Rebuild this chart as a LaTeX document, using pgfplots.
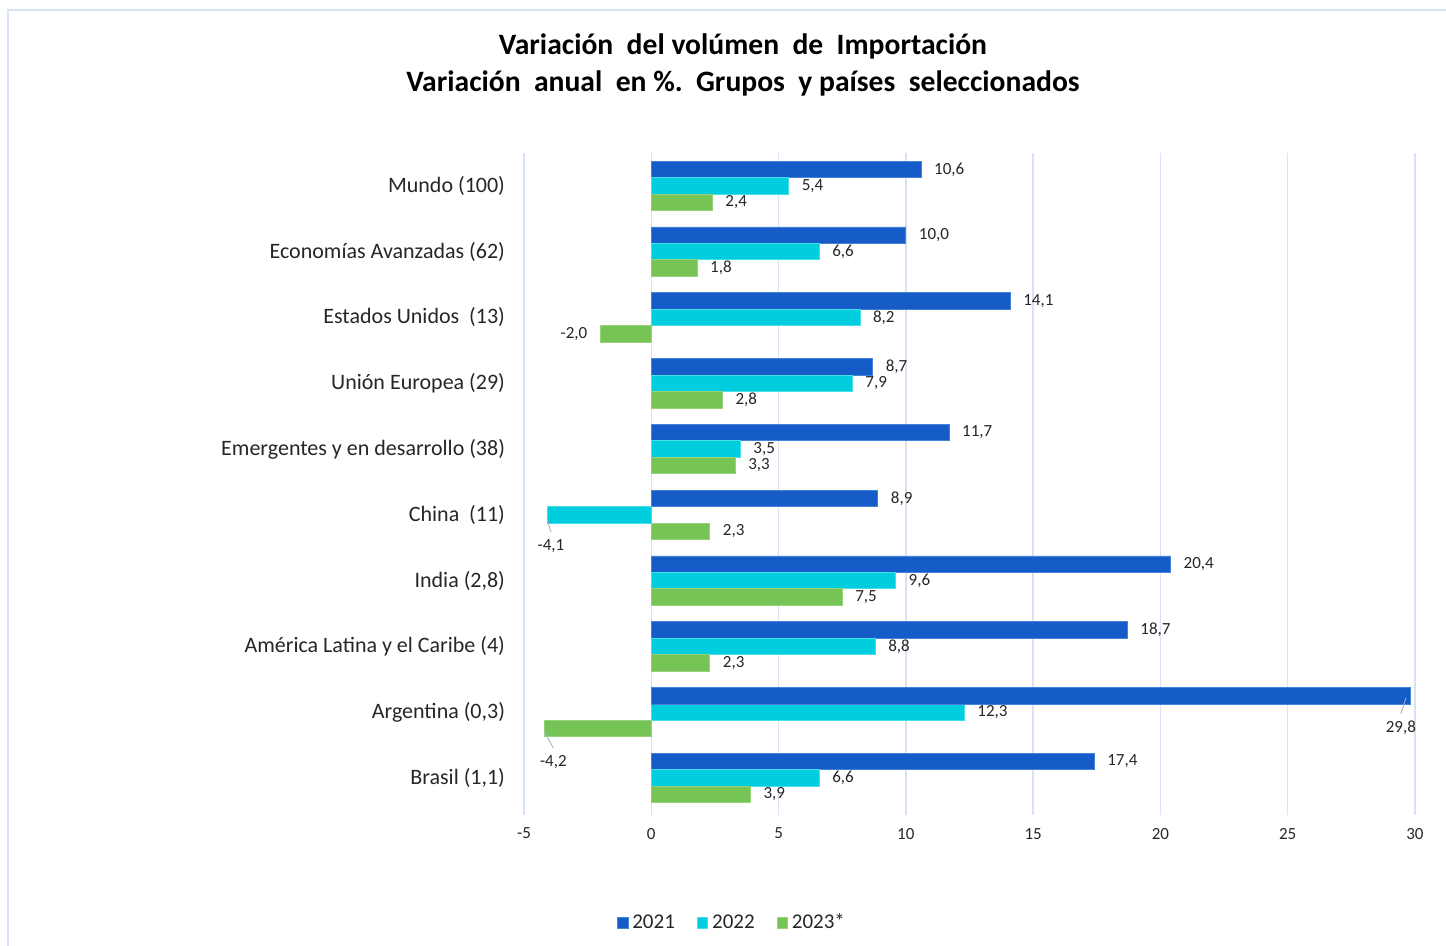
\documentclass[border=0pt]{standalone}
\usepackage{pgfplots}
\pgfplotsset{compat=1.18}
\usepackage{fontspec}
\setmainfont{Carlito}

\definecolor{c21}{RGB}{22,92,200}
\definecolor{c21e}{RGB}{70,130,215}
\definecolor{c22}{RGB}{0,206,222}
\definecolor{c22e}{RGB}{70,222,232}
\definecolor{c23}{RGB}{118,196,86}
\definecolor{c23e}{RGB}{150,210,120}
\definecolor{gridc}{RGB}{214,227,244}
\definecolor{leader}{RGB}{160,180,205}
\definecolor{txt}{RGB}{38,38,38}

\begin{document}
\begin{tikzpicture}
\begin{axis}[
  name=ax,
  scale only axis,
  width=445.5pt, height=331pt,
  xbar, bar width=0.25,
  xmin=-5, xmax=30, ymin=-0.5, ymax=9.5625,
  y dir=reverse,
  xtick={-5,0,...,30},
  ytick={0,...,9},
  yticklabels={{Mundo (100)}, {Economías Avanzadas (62)}, {Estados Unidos\ \ (13)},
    {Unión Europea (29)}, {Emergentes y en desarrollo (38)}, {China\ \ (11)},
    {India (2,8)}, {América Latina y el Caribe (4)}, {Argentina (0,3)}, {Brasil (1,1)}},
  yticklabel style={font=\fontsize{11}{13}\selectfont, text=txt, xshift=-6pt},
  xticklabel style={font=\fontsize{8.5}{10}\selectfont, text=txt, yshift=-3pt},
  /pgf/number format/assume math mode=true,
  xmajorgrids, major grid style={draw=gridc, line width=0.7pt},
  axis line style={draw=none},
  major tick length=0pt,
  point meta=x,
  nodes near coords,
  nodes near coords style={font=\fontsize{8.5}{10}\selectfont, text=txt,
    /pgf/number format/fixed, /pgf/number format/fixed zerofill,
    /pgf/number format/precision=1, /pgf/number format/use comma,
    /pgf/number format/assume math mode=true},
  legend style={at={(0.2346,-0.1631)}, anchor=center, draw=none, fill=none,
    legend columns=-1, font=\fontsize{10.5}{12}\selectfont, text=txt,
    /tikz/every even column/.append style={column sep=9pt}},
  legend image code/.code={\fill[#1] (0pt,-2.6pt) rectangle (5.2pt,2.6pt);},
  clip=false,
]
% 2021
\addplot[fill=c21, draw=c21e, bar shift=-0.25, nodes near coords style={anchor=west, xshift=3pt}]
  coordinates {(10.6,0) (10.0,1) (14.1,2) (8.7,3) (11.7,4) (8.9,5) (20.4,6) (18.7,7) (17.4,9)};
% 2022
\addplot[fill=c22, draw=c22e, bar shift=0, nodes near coords style={anchor=west, xshift=3pt}]
  coordinates {(5.4,0) (6.6,1) (8.2,2) (7.9,3) (3.5,4) (9.6,6) (8.8,7) (12.3,8) (6.6,9)};
% 2023
\addplot[fill=c23, draw=c23e, bar shift=0.25, nodes near coords style={anchor=west, xshift=3pt}]
  coordinates {(2.4,0) (1.8,1) (2.8,3) (3.3,4) (2.3,5) (7.5,6) (2.3,7) (3.9,9)};
% points with labels placed elsewhere
\addplot[forget plot, fill=c21, draw=c21e, bar shift=-0.25,
  nodes near coords style={anchor=center, xshift=-4.5pt, yshift=-16pt,
    append after command={(\tikzlastnode.north) edge[draw=leader] ++(2.5pt,8pt)}}]
  coordinates {(29.8,8)};
\addplot[forget plot, fill=c22, draw=c22e, bar shift=0,
  nodes near coords style={anchor=center, xshift=2pt, yshift=-15.5pt,
    append after command={(\tikzlastnode.north) edge[draw=leader] ++(-2pt,7pt)}}]
  coordinates {(-4.1,5)};
\addplot[forget plot, fill=c23, draw=c23e, bar shift=0.25,
  nodes near coords style={anchor=east, xshift=-3pt}]
  coordinates {(-2.0,2)};
\addplot[forget plot, fill=c23, draw=c23e, bar shift=0.25,
  nodes near coords style={anchor=center, xshift=4.5pt, yshift=-16.5pt,
    append after command={(\tikzlastnode.north) edge[draw=leader] ++(-4.5pt,8pt)}}]
  coordinates {(-4.2,8)};
\legend{2021, 2022, 2023*}
\end{axis}
\node[font=\bfseries\fontsize{14.8}{17}\selectfont, align=center, text=black]
  at ([shift={(109.5pt,375pt)}]ax.south west)
  {Variación\ \ del volúmen\ \ de\ \ Importación\\[1.5pt] Variación\ \ anual\ \ en \%.\ \ Grupos\ \ y países\ \ seleccionados};
\draw[gridc, line width=0.8pt] ([shift={(-258pt,-65.5pt)}]ax.south west) -- ++(0,468pt) -- ++(719pt,0);
\pgfresetboundingbox
\useasboundingbox ([shift={(-262pt,-65.5pt)}]ax.south west) rectangle ++(723pt,473pt);
\end{tikzpicture}
\end{document}
